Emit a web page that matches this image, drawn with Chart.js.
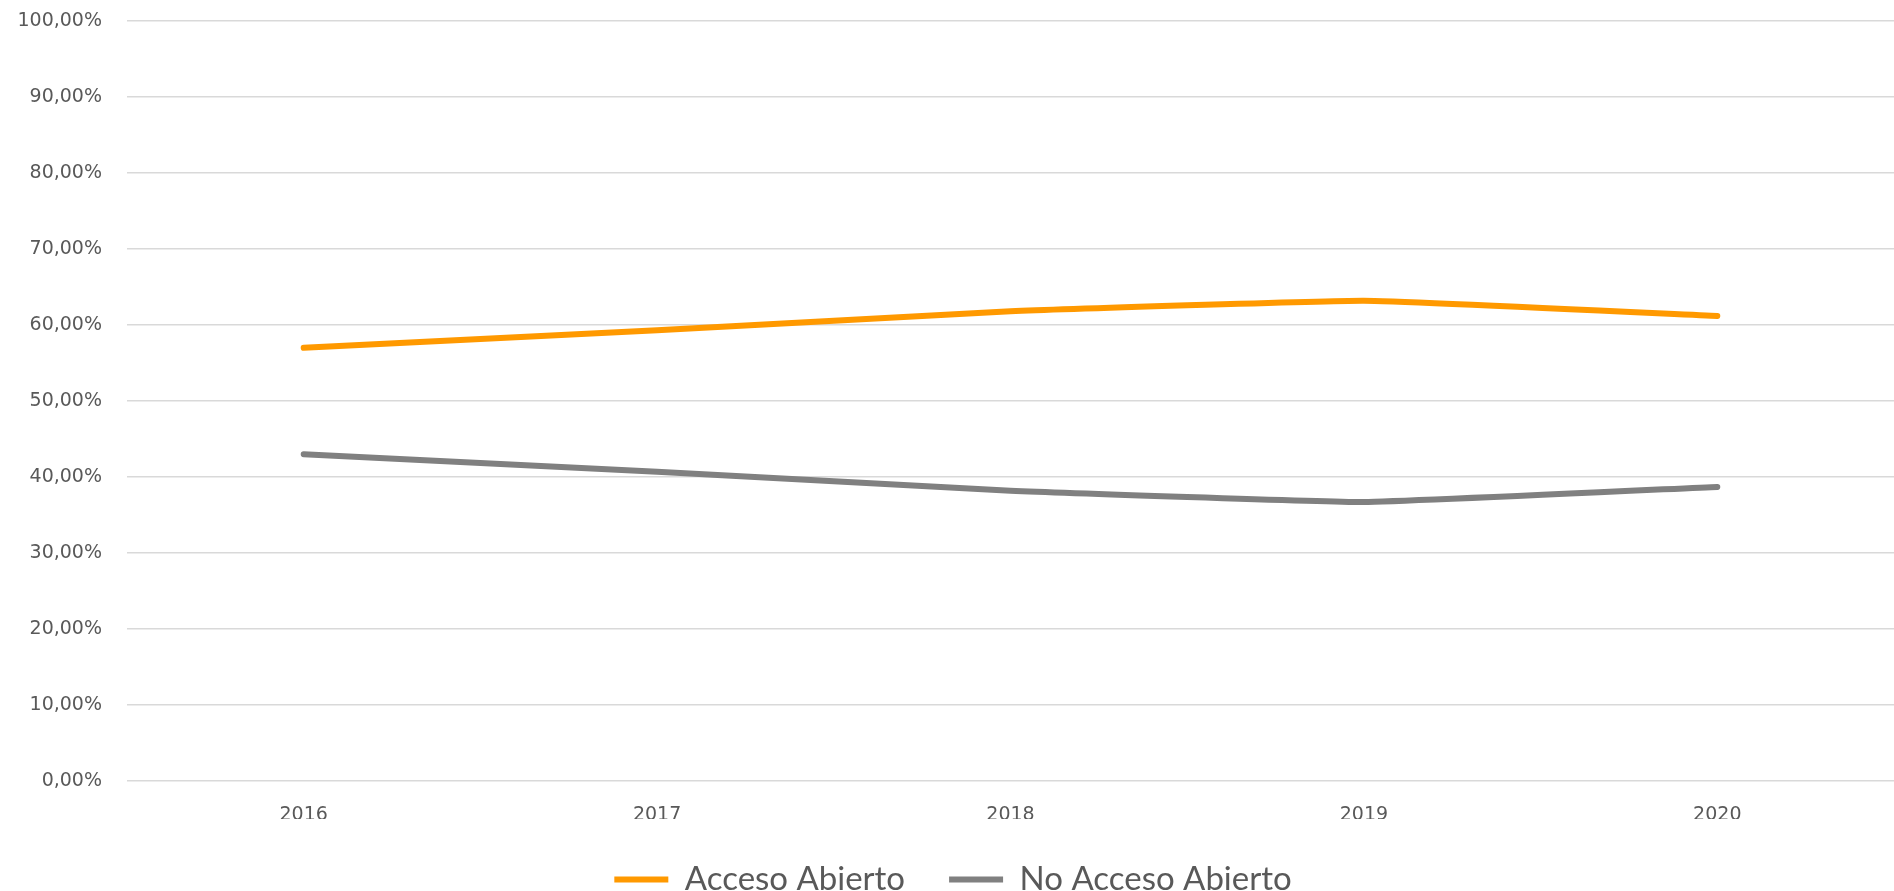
<!DOCTYPE html>
<html>
<head>
<meta charset="utf-8">
<script src="https://cdn.jsdelivr.net/npm/chart.js@4"></script>
<style>
  html, body { margin:0; padding:0; background:#fff; }
  #wrap { width:1894px; height:891px; position:relative; }
</style>
</head>
<body>
<div id="wrap"><canvas id="chart"></canvas></div>
<script>
const years     = ['2016', '2017', '2018', '2019', '2020'];
const abierto   = [57.0, 59.3, 61.8, 63.2, 61.2];   // Acceso Abierto (%)
const noAbierto = [43.0, 40.7, 38.2, 36.7, 38.7];   // No Acceso Abierto (%)

const pct = v => v.toFixed(2).replace('.', ',') + '%';

new Chart(document.getElementById('chart'), {
  type: 'line',
  data: {
    labels: years,
    datasets: [
      { label:'Acceso Abierto',    data:abierto,   borderColor:'#FF9900', backgroundColor:'#FF9900',
        borderWidth:6, pointRadius:0, tension:0.1, borderCapStyle:'round', borderJoinStyle:'round' },
      { label:'No Acceso Abierto', data:noAbierto, borderColor:'#808080', backgroundColor:'#808080',
        borderWidth:6, pointRadius:0, tension:0.1, borderCapStyle:'round', borderJoinStyle:'round' }
    ]
  },
  options: {
    responsive:true, maintainAspectRatio:false, animation:false,
    layout:{ padding:{ top:0, right:0, left:12, bottom:0 } },   // left pad nudges legend centre
    plugins:{
      tooltip:{ enabled:false },
      legend:{
        position:'bottom',
        maxHeight:72,
        labels:{
          color:'#595959',
          font:{ family:'Lato, "Liberation Sans", sans-serif', size:33 },
          boxWidth:54, boxHeight:6, padding:44,
          generateLabels(chart) {
            return Chart.defaults.plugins.legend.labels.generateLabels(chart)
              .map(l => ({ ...l, lineWidth:0, fillStyle:l.strokeStyle }));
          }
        }
      }
    },
    scales:{
      x:{
        offset:true,
        afterFit(s){ s.height = 38; },
        grid:{ display:false },
        border:{ display:false },
        ticks:{ color:'#595959', padding:15, font:{ family:'"DejaVu Sans", sans-serif', size:19 } }
      },
      y:{
        min:0, max:100,
        afterFit(s){ s.width = 115; s.paddingTop = 21; },
        grid:{ color:'#d9d9d9', lineWidth:1.5, drawTicks:false },
        border:{ display:false },
        ticks:{ stepSize:10, padding:25, color:'#595959',
          font:{ family:'"DejaVu Sans", sans-serif', size:19 }, callback:v => pct(v) }
      }
    }
  }
});
</script>
</body>
</html>
